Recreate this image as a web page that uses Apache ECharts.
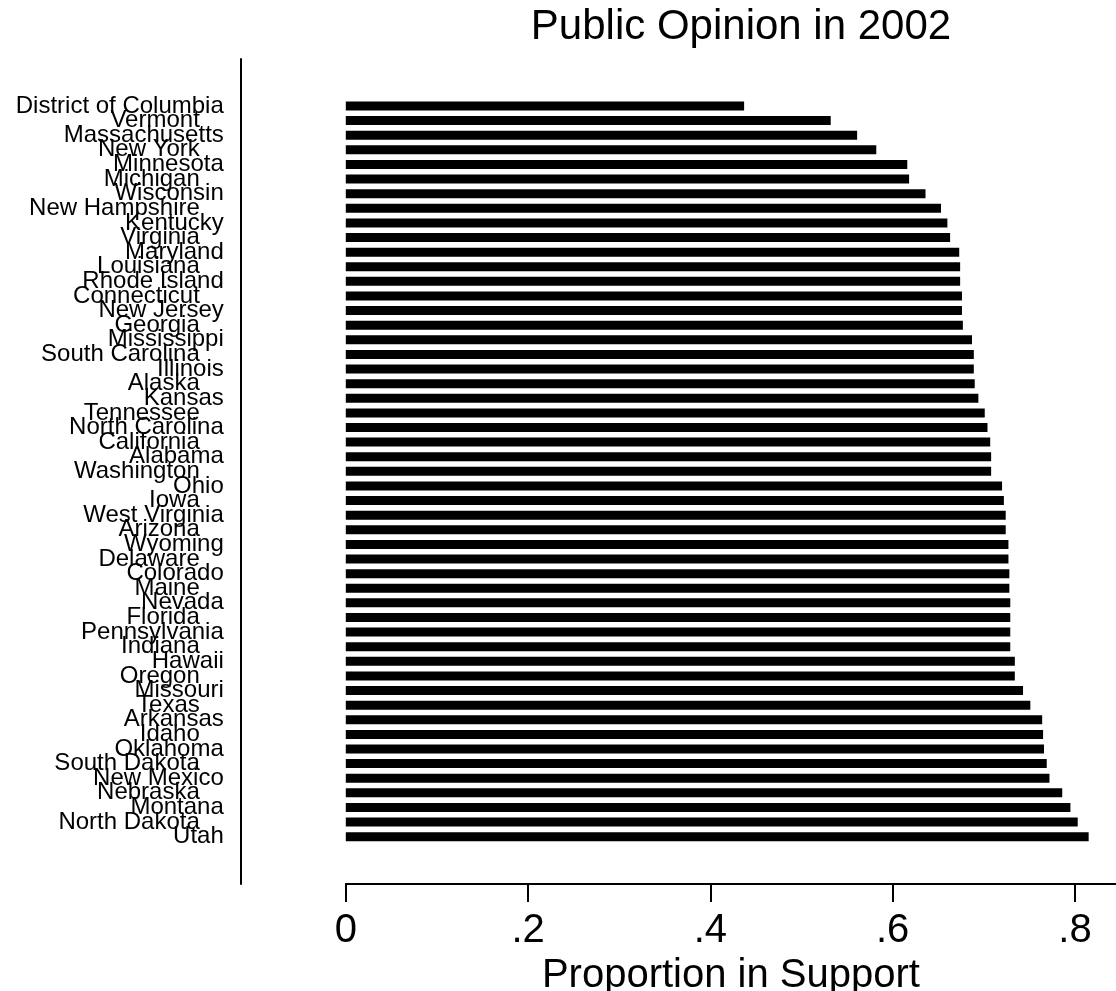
<!DOCTYPE html>
<html>
<head>
<meta charset="utf-8">
<script src="https://cdn.jsdelivr.net/npm/echarts@6/dist/echarts.min.js"></script>
<style>
html,body{margin:0;padding:0;background:#fff;}
#chart{width:1116px;height:991px;}
</style>
</head>
<body>
<div id="chart"></div>
<script>
const states = ["District of Columbia","Vermont","Massachusetts","New York","Minnesota","Michigan","Wisconsin","New Hampshire","Kentucky","Virginia","Maryland","Louisiana","Rhode Island","Connecticut","New Jersey","Georgia","Mississippi","South Carolina","Illinois","Alaska","Kansas","Tennessee","North Carolina","California","Alabama","Washington","Ohio","Iowa","West Virginia","Arizona","Wyoming","Delaware","Colorado","Maine","Nevada","Florida","Pennsylvania","Indiana","Hawaii","Oregon","Missouri","Texas","Arkansas","Idaho","Oklahoma","South Dakota","New Mexico","Nebraska","Montana","North Dakota","Utah"];
const support = [0.437,0.532,0.561,0.582,0.616,0.618,0.636,0.653,0.660,0.663,0.673,0.674,0.674,0.676,0.676,0.677,0.687,0.689,0.689,0.690,0.694,0.701,0.704,0.707,0.708,0.708,0.720,0.722,0.724,0.724,0.727,0.727,0.728,0.728,0.729,0.729,0.729,0.729,0.734,0.734,0.743,0.751,0.764,0.765,0.766,0.769,0.772,0.786,0.795,0.803,0.815];
const xTicks = [0, 0.2, 0.4, 0.6, 0.8];
const xTickLabels = ["0", ".2", ".4", ".6", ".8"];
const titleText = "Public Opinion in 2002";
const xTitle = "Proportion in Support";

const FONT = "'Liberation Sans', Arial, sans-serif";
const chart = echarts.init(document.getElementById('chart'), null, {renderer: 'canvas'});

const labelCommon = {fontFamily: FONT, fontSize: 24, color: '#000'};

chart.setOption({
  animation: false,
  backgroundColor: '#fff',
  graphic: [{
    type: 'text', x: 741, y: 27,
    style: {text: titleText, font: '42px ' + FONT, fill: '#000', textAlign: 'center', textVerticalAlign: 'middle'}
  }],
  grid: [
    {left: 345.8, right: 0, top: 98.7, bottom: 147, containLabel: false, outerBoundsMode: 'none'},
    {left: 241, width: 10, top: 59, bottom: 107, containLabel: false, outerBoundsMode: 'none'}
  ],
  xAxis: [
    {
      type: 'value', gridIndex: 0, min: 0, max: 0.845, offset: 40,
      name: xTitle, nameLocation: 'middle', nameGap: 68,
      nameTextStyle: {fontFamily: FONT, fontSize: 40, color: '#000'},
      axisLine: {show: true, lineStyle: {color: '#000', width: 2}},
      axisTick: {show: true, length: 18, lineStyle: {color: '#000', width: 2}, customValues: xTicks},
      axisLabel: {show: true, fontFamily: FONT, fontSize: 40, color: '#000', margin: 27,
        customValues: xTicks,
        formatter: function (v) { const i = xTicks.findIndex(t => Math.abs(t - v) < 1e-6); return i >= 0 ? xTickLabels[i] : ''; }},
      splitLine: {show: false}
    },
    {type: 'value', gridIndex: 1, min: 0, max: 1, show: false}
  ],
  yAxis: [
    {
      type: 'category', gridIndex: 0, data: states, inverse: true,
      axisLine: {show: false}, axisTick: {show: false}, splitLine: {show: false},
      axisLabel: Object.assign({margin: 122, interval: function (i) { return i % 2 === 0; }}, labelCommon)
    },
    {
      type: 'category', gridIndex: 0, data: states, inverse: true, position: 'left',
      axisLine: {show: false}, axisTick: {show: false}, splitLine: {show: false},
      axisLabel: Object.assign({margin: 146, interval: function (i) { return i % 2 === 1; }}, labelCommon)
    },
    {
      type: 'value', gridIndex: 1, min: 0, max: 1, position: 'left',
      axisLine: {show: true, lineStyle: {color: '#000', width: 2}},
      axisTick: {show: false}, axisLabel: {show: false}, splitLine: {show: false}
    }
  ],
  series: [{
    type: 'bar', xAxisIndex: 0, yAxisIndex: 0, data: support,
    barWidth: 9, itemStyle: {color: '#000'}
  }]
});
</script>
</body>
</html>
